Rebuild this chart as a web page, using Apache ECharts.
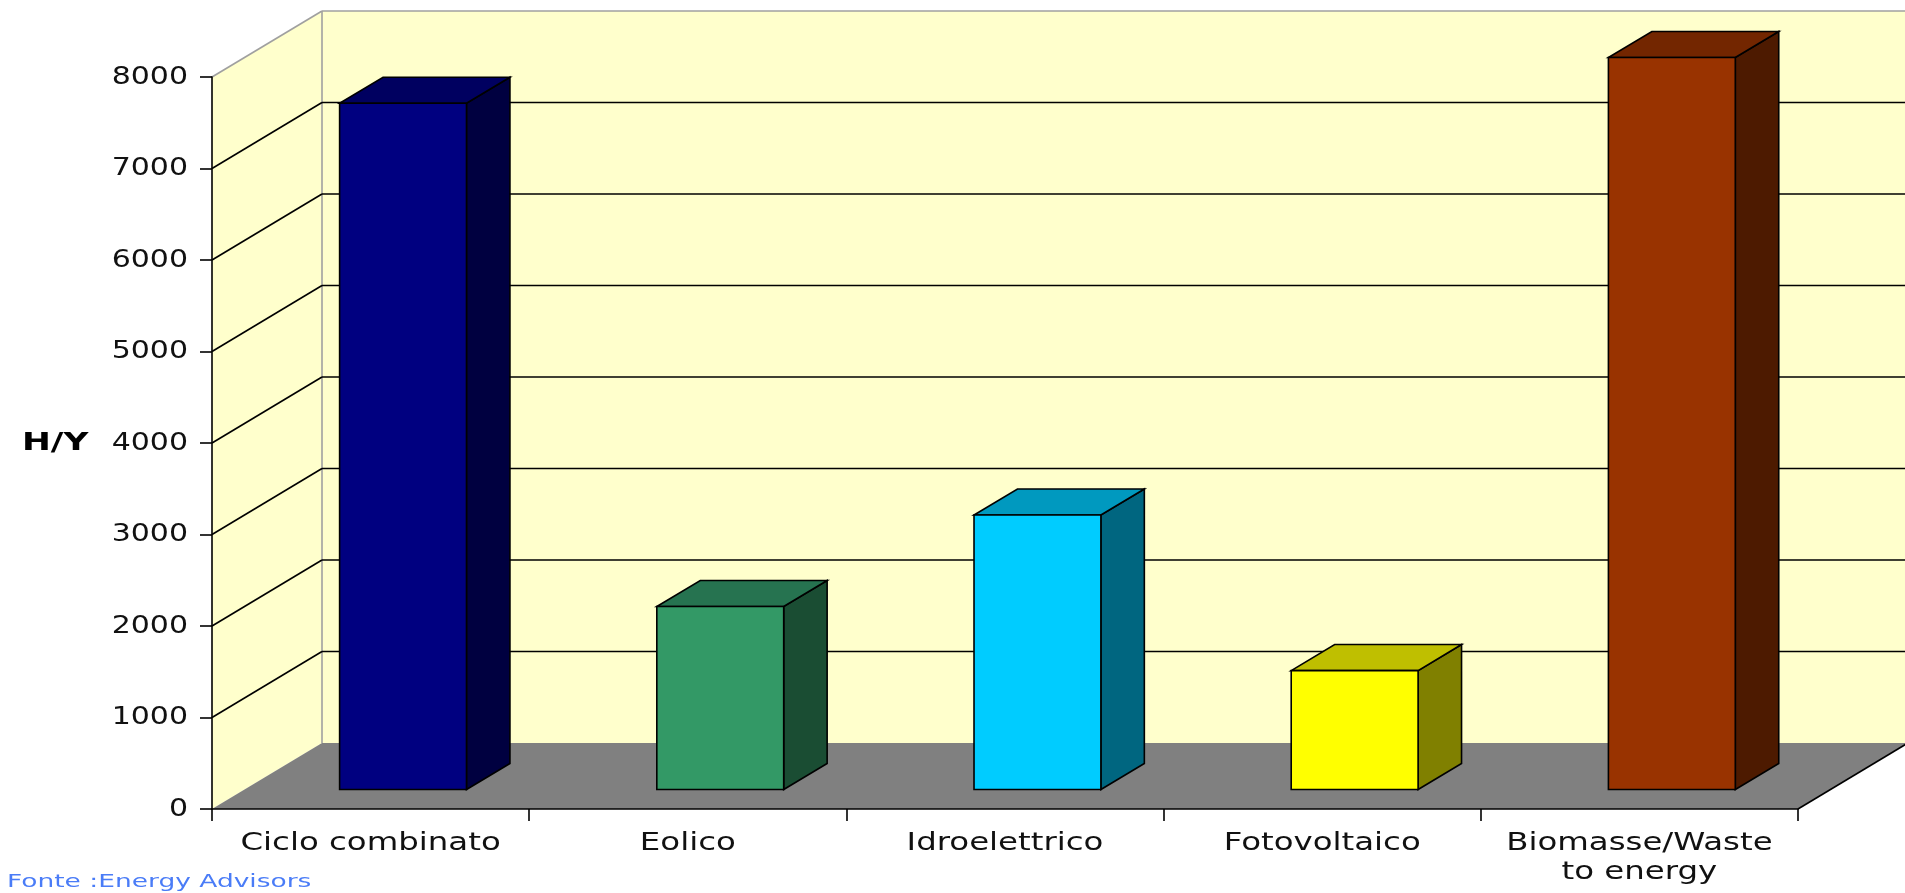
<!DOCTYPE html>
<html>
<head>
<meta charset="utf-8">
<script src="https://cdn.jsdelivr.net/npm/echarts@6/dist/echarts.min.js"></script>
<style>
  html, body { margin: 0; padding: 0; background: #ffffff; }
  #chart { width: 1905px; height: 893px; }
</style>
</head>
<body>
<div id="chart"></div>
<script>
// Yearly operating hours by generation technology
const categories = ['Ciclo combinato', 'Eolico', 'Idroelettrico', 'Fotovoltaico', 'Biomasse/Waste\nto energy'];
const hoursPerYear = [7500, 2000, 3000, 1300, 8000];
const yTicks = [0, 1000, 2000, 3000, 4000, 5000, 6000, 7000, 8000];
const yAxisName = 'H/Y';
const sourceNote = 'Fonte :Energy Advisors';

// Face colours of each column: front, top (lit), side (shaded)
const frontColors = ['#000080', '#339966', '#00ccff', '#ffff00', '#993300'];
const topColors   = ['#000060', '#267350', '#0099bf', '#bfbf00', '#732600'];
const sideColors  = ['#000040', '#1a4d33', '#006680', '#808000', '#4d1a00'];

// Oblique projection of the depth axis (pixels from front plane to back wall)
const DEPTH = { dx: 110, dy: -66 };
// Column footprint: width as share of a category band, depth as share of the floor
const COLUMN = { width: 0.40, front: 0.295, back: 0.69 };

const WALL = '#ffffcc';
const FLOOR = '#808080';
const EDGE = '#a0a0a0';
const FONT = '"DejaVu Sans", Verdana, sans-serif';

const chart = echarts.init(document.getElementById('chart'), null, { renderer: 'canvas' });

function renderRoom(params, api) {
  const cs = params.coordSys;
  const x0 = cs.x, x1 = cs.x + cs.width;
  const yb = api.coord([0, yTicks[0]])[1];
  const yt = api.coord([0, yTicks[yTicks.length - 1]])[1];
  const { dx, dy } = DEPTH;
  return {
    type: 'group',
    children: [
      { type: 'polygon', shape: { points: [[x0, yb], [x0, yt], [x0 + dx, yt + dy], [x0 + dx, yb + dy]] },
        style: { fill: WALL } },
      { type: 'polygon', shape: { points: [[x0 + dx, yt + dy], [x1 + dx + 10, yt + dy], [x1 + dx + 10, yb + dy], [x0 + dx, yb + dy]] },
        style: { fill: WALL } },
      { type: 'polygon', shape: { points: [[x0, yb], [x1, yb], [x1 + dx, yb + dy], [x0 + dx, yb + dy]] },
        style: { fill: FLOOR } },
      { type: 'line', shape: { x1: x0 + dx, y1: yt + dy, x2: x0 + dx, y2: yb + dy },
        style: { stroke: EDGE, lineWidth: 1.6 } },
      { type: 'line', shape: { x1: x1, y1: yb, x2: x1 + dx, y2: yb + dy },
        style: { stroke: '#000000', lineWidth: 1.6 } }
    ]
  };
}

function renderGridLine(params, api) {
  const v = api.value(1);
  if (v === yTicks[0]) return null;
  const cs = params.coordSys;
  const x0 = cs.x, x1 = cs.x + cs.width;
  const y = api.coord([0, v])[1];
  const { dx, dy } = DEPTH;
  const isTop = v === yTicks[yTicks.length - 1];
  const stroke = isTop ? EDGE : '#000000';
  return {
    type: 'group',
    children: [
      { type: 'line', shape: { x1: x0, y1: y, x2: x0 + dx, y2: y + dy }, style: { stroke: stroke, lineWidth: 1.6 } },
      { type: 'line', shape: { x1: x0 + dx, y1: y + dy, x2: x1 + dx + 10, y2: y + dy }, style: { stroke: stroke, lineWidth: 1.6 } }
    ]
  };
}

function renderColumn(params, api) {
  const i = api.value(0);
  const base = api.coord([i, 0]);
  const top = api.coord([i, api.value(1)]);
  const band = api.size([1, 0])[0];
  const w = band * COLUMN.width;
  const ox = DEPTH.dx * COLUMN.front, oy = DEPTH.dy * COLUMN.front;
  const ddx = DEPTH.dx * (COLUMN.back - COLUMN.front), ddy = DEPTH.dy * (COLUMN.back - COLUMN.front);
  const L = base[0] + ox - w / 2, R = base[0] + ox + w / 2;
  const B = base[1] + oy, T = top[1] + oy;
  const edge = { stroke: '#000000', lineWidth: 1.6, lineJoin: 'miter' };
  return {
    type: 'group',
    children: [
      { type: 'polygon', shape: { points: [[R, T], [R + ddx, T + ddy], [R + ddx, B + ddy], [R, B]] },
        style: Object.assign({ fill: sideColors[i] }, edge) },
      { type: 'polygon', shape: { points: [[L, T], [R, T], [R + ddx, T + ddy], [L + ddx, T + ddy]] },
        style: Object.assign({ fill: topColors[i] }, edge) },
      { type: 'polygon', shape: { points: [[L, T], [R, T], [R, B], [L, B]] },
        style: Object.assign({ fill: frontColors[i] }, edge) }
    ]
  };
}

function renderCategoryLabel(params, api) {
  const i = api.value(0);
  const p = api.coord([i, 0]);
  return {
    type: 'text', x: p[0], y: p[1] + 20, scaleX: 1.35,
    style: {
      text: categories[i], fill: '#111111', fontSize: 24, fontFamily: FONT,
      align: 'center', verticalAlign: 'top', lineHeight: 29
    }
  };
}

function renderValueLabel(params, api) {
  const v = api.value(1);
  const cs = params.coordSys;
  const p = api.coord([0, v]);
  return {
    type: 'text', x: cs.x - 24, y: p[1], scaleX: 1.2,
    style: {
      text: String(v), fill: '#111111', fontSize: 25, fontFamily: FONT,
      align: 'right', verticalAlign: 'middle'
    }
  };
}

const option = {
  animation: false,
  backgroundColor: '#ffffff',
  grid: { left: 212, right: 107, top: 77, bottom: 84, containLabel: false, outerBoundsMode: 'none' },
  xAxis: {
    type: 'category',
    data: categories,
    boundaryGap: true,
    z: 10,
    axisLine: { show: true, lineStyle: { color: '#000000', width: 1.6 } },
    axisTick: { show: true, length: 12, interval: 0, lineStyle: { color: '#000000', width: 1.6 } },
    axisLabel: { show: false },
    splitLine: { show: false }
  },
  yAxis: {
    type: 'value',
    min: 0, max: 8000, interval: 1000,
    z: 10,
    axisLine: { show: true, lineStyle: { color: '#000000', width: 1.6 } },
    axisTick: { show: true, length: 12, lineStyle: { color: '#000000', width: 1.6 } },
    axisLabel: { show: false },
    splitLine: { show: false }
  },
  graphic: [
    { type: 'text', x: 22, y: 443, scaleX: 1.38, z: 20,
      style: { text: yAxisName, fill: '#000000', fontSize: 25, fontWeight: 'bold', fontFamily: FONT, align: 'left', verticalAlign: 'middle' } },
    { type: 'text', x: 7, y: 882, scaleX: 1.47, z: 20,
      style: { text: sourceNote, fill: '#4a7cf7', fontSize: 18, fontFamily: FONT, align: 'left', verticalAlign: 'middle' } }
  ],
  series: [
    { type: 'custom', name: 'room', clip: false, z: 1, silent: true,
      renderItem: renderRoom, data: [[0, 0]] },
    { type: 'custom', name: 'gridlines', clip: false, z: 2, silent: true,
      renderItem: renderGridLine, data: yTicks.map(v => [0, v]) },
    { type: 'custom', name: 'H/Y', clip: false, z: 3,
      renderItem: renderColumn, data: hoursPerYear.map((v, i) => [i, v]) },
    { type: 'custom', name: 'categoryLabels', clip: false, z: 4, silent: true,
      renderItem: renderCategoryLabel, data: categories.map((c, i) => [i, 0]) },
    { type: 'custom', name: 'valueLabels', clip: false, z: 4, silent: true,
      renderItem: renderValueLabel, data: yTicks.map(v => [0, v]) }
  ]
};

chart.setOption(option);
</script>
</body>
</html>
